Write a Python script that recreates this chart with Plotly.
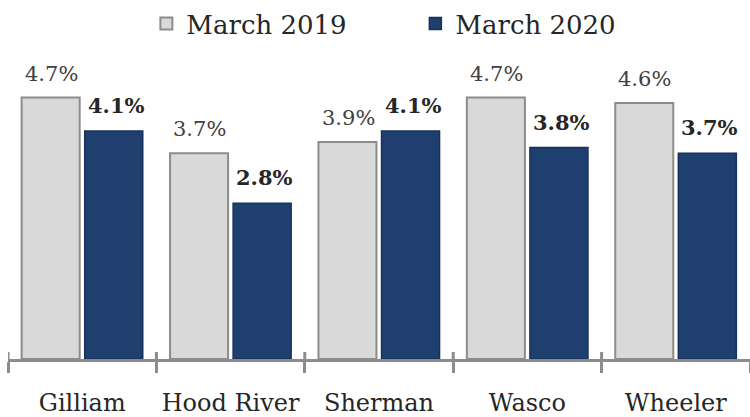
import plotly.graph_objects as go

categories = ["Gilliam", "Hood River", "Sherman", "Wasco", "Wheeler"]
march_2019 = [4.7, 3.7, 3.9, 4.7, 4.6]
march_2020 = [4.1, 2.8, 4.1, 3.8, 3.7]
series_names = ["March 2019", "March 2020"]

FONT = "DejaVu Serif"
TXT = "#262626"
GRAY_FILL = "#d9d9d9"
GRAY_LINE = "#8c8c8c"
NAVY = "#1f3f6e"
NAVY_LINE = "#17325a"

fig = go.Figure()
fig.add_trace(go.Bar(x=categories, y=march_2019, name=series_names[0],
                     marker=dict(color=GRAY_FILL, line=dict(color=GRAY_LINE, width=2))))
fig.add_trace(go.Bar(x=categories, y=march_2020, name=series_names[1],
                     marker=dict(color=NAVY, line=dict(color=NAVY_LINE, width=1.5))))

annotations = []
for c, v in zip(categories, march_2019):
    annotations.append(dict(x=c, y=v, xref="x", yref="y", text=f"{v:.1f}%", showarrow=False,
                            xshift=-31, yshift=10, yanchor="bottom",
                            font=dict(family=FONT, size=21, color="#404040")))
for c, v in zip(categories, march_2020):
    annotations.append(dict(x=c, y=v, xref="x", yref="y", text=f"<b>{v:.1f}%</b>", showarrow=False,
                            xshift=34, yshift=11, yanchor="bottom",
                            font=dict(family=FONT, size=21, color=TXT)))

shapes = []
for i in range(len(categories)):
    shapes.append(dict(type="line", xref="x", yref="paper", x0=i - 0.5, x1=i - 0.5,
                       y0=0, y1=7 / 306, line=dict(color=GRAY_LINE, width=3)))

fig.update_layout(
    width=750, height=417,
    margin=dict(l=8, r=0, t=53, b=58),
    paper_bgcolor="white", plot_bgcolor="white",
    barmode="group", bargap=0.15, bargroupgap=0.08,
    font=dict(family=FONT, color=TXT),
    showlegend=True,
    legend=dict(orientation="h", x=0.549, xanchor="center", y=1, yref="container", yanchor="top",
                font=dict(family=FONT, size=26, color=TXT), entrywidth=224,
                itemclick=False),
    xaxis=dict(range=[-0.5, 4.5], showline=True, linecolor=GRAY_LINE, linewidth=3,
               ticks="outside", tickson="boundaries", ticklen=11, tickwidth=3,
               tickcolor=GRAY_LINE, tickfont=dict(family=FONT, size=24, color=TXT),
               tickangle=0, automargin=False, ticklabelstandoff=20,
               showgrid=False, zeroline=False, fixedrange=True),
    yaxis=dict(range=[0, 5.5], visible=False, showgrid=False, zeroline=False, fixedrange=True,
               automargin=False),
    annotations=annotations,
    shapes=shapes,
)

fig.write_html("out.html", config={"displayModeBar": False},
               post_script="document.body.style.margin='0';")
